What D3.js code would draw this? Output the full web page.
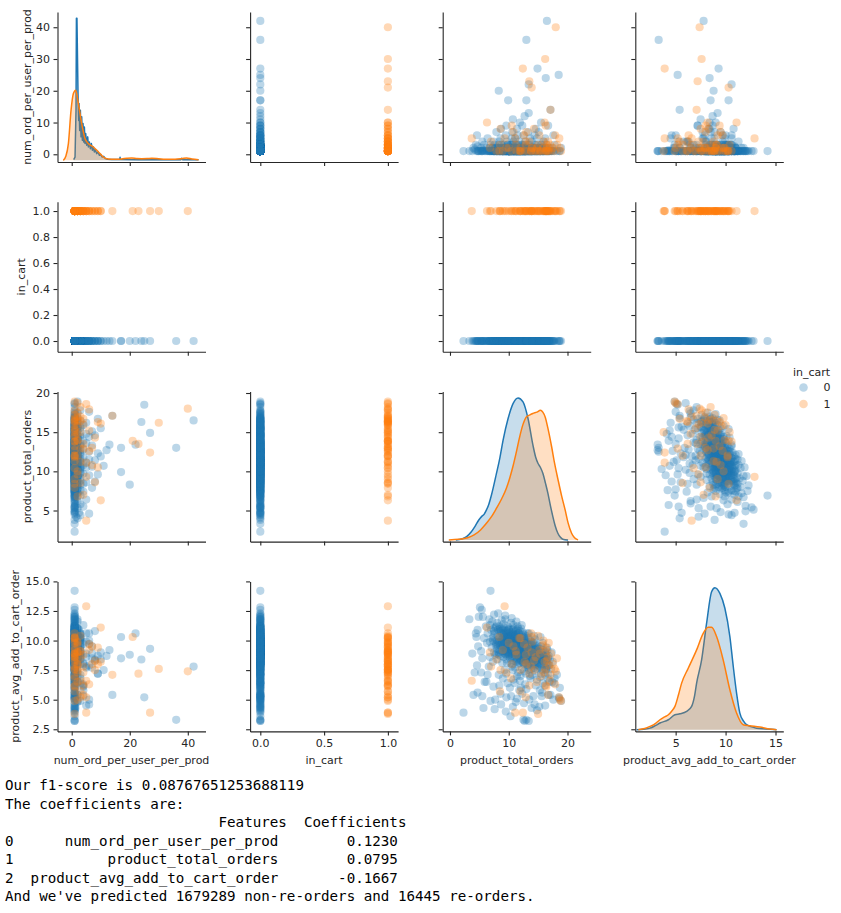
<!DOCTYPE html>
<html><head><meta charset="utf-8">
<script src="https://cdn.jsdelivr.net/npm/d3@7"></script>
<style>body{margin:0;background:#fff}svg{display:block}text{font-family:"DejaVu Sans",sans-serif}</style>
</head><body><svg id="c" width="841" height="913"></svg>
<script>
// ---------------- data ----------------
const varNames = ["num_ord_per_user_per_prod","in_cart","product_total_orders","product_avg_add_to_cart_order"];
const hueLevels = ["0","1"];
// rows: [num_ord_per_user_per_prod, product_total_orders, product_avg_add_to_cart_order]
const blueRows = [
[1,2.3,3.9],[1,3.3,11.8],[2,4.0,5.4],[1,3.8,8.9],[1.5,4.2,7.3],[3,4.4,10.6],[1,4.5,10.3],[1,4.7,5.6],[2.5,4.7,10.9],[1,4.8,9.5],[1,4.9,12.0],[6,4.6,7.9],
[1,5.1,12.8],[1,5.3,9.1],[2,5.3,7.3],[1,5.4,12.6],[4,5.5,5.3],[1,5.5,8.5],[1,5.6,12.0],[1.3,5.7,4.3],[3,5.8,10.2],[1,5.9,6.5],
[1,6.1,11.2],[2,6.2,6.5],[1,6.3,9.8],[1,6.4,7.1],[5,6.4,10.6],[1,6.6,7.8],[1,6.7,11.8],[2,6.8,8.6],[1,6.8,9.9],[1,6.9,14.2],[3,6.9,4.9],[1,6.8,11.3],
[1,7.0,10.9],[1,7.1,9.4],[2,7.2,11.6],[1,7.3,8.2],[1,7.4,10.3],[4,7.4,6.1],[1,7.5,12.2],[1,7.5,9.0],[3,7.6,10.6],[1,7.7,5.0],[2,7.7,8.8],[1,7.8,11.1],[1,7.9,9.7],[7,7.9,8.9],[1,7.6,4.2],[2,7.3,10.0],
[1,8.0,9.3],[1,8.0,11.5],[2,8.1,8.4],[1,8.1,10.4],[20,8.3,8.8],[1,8.2,12.3],[1,8.3,9.0],[3,8.3,7.1],[1,8.4,10.8],[1,8.5,9.6],[2,8.5,11.0],[1,8.6,8.7],[5,8.6,9.9],[1,8.7,4.6],[1,8.7,10.2],[2,8.8,9.4],[1,8.8,11.7],[1,8.9,8.1],[1,8.9,10.6],[4,8.4,6.2],[1,8.6,5.5],[2,8.2,9.8],[1,8.9,9.1],[8,8.7,10.8],
[1,9.0,9.5],[1,9.0,10.9],[2,9.1,8.6],[1,9.1,11.4],[1,9.2,9.8],[3,9.2,10.3],[1,9.3,8.9],[1,9.3,7.5],[1,9.4,10.1],[2,9.4,11.8],[1,9.5,9.2],[1,9.5,4.0],[6,9.5,10.6],[1,9.6,8.4],[1,9.6,9.9],[2,9.7,10.8],[1,9.7,9.0],[1,9.8,11.2],[17,9.9,10.3],[1,9.8,8.7],[3,9.8,6.4],[1,9.9,9.6],[1,9.9,10.4],[2,9.3,9.4],[1,9.4,12.1],[1,9.6,5.2],[4,9.7,8.1],[1,9.1,10.0],[1,9.2,9.1],[2,9.8,10.0],[1,9.5,8.8],[9,9.6,7.2],[1,9.0,6.8],
[1,10.0,9.3],[1,10.0,10.6],[2,10.1,9.0],[1,10.1,11.0],[1,10.2,8.5],[1,10.2,9.8],[3,10.3,10.2],[1,10.3,9.4],[1,10.4,11.5],[2,10.4,8.9],[1,10.5,10.0],[1,10.5,9.2],[5,10.5,7.8],[1,10.6,10.7],[1,10.6,8.7],[2,10.7,9.6],[1,10.7,4.4],[1,10.8,10.3],[1,10.8,9.0],[4,10.8,11.3],[1,10.9,9.7],[1,10.9,8.3],[2,10.9,10.5],[1,10.2,6.0],[1,10.4,5.3],[3,10.6,9.1],[1,10.7,10.9],[1,10.1,9.6],[2,10.3,8.1],[1,10.5,11.9],[1,10.8,6.7],[7,10.6,9.5],[1,10.0,8.8],[1,10.2,10.4],[2,10.4,9.9],[1,10.9,9.2],[11,10.7,7.5],[1,10.3,3.6],[1,10.6,8.0],[1,10.9,10.1],
[1,11.0,9.0],[1,11.0,10.4],[2,11.1,9.5],[1,11.1,8.6],[1,11.2,10.8],[3,11.2,9.2],[1,11.3,9.9],[1,11.3,8.2],[1,11.4,10.2],[2,11.4,9.4],[1,11.5,11.2],[1,11.5,8.8],[6,11.5,10.0],[1,11.6,9.6],[1,11.6,7.3],[2,11.7,10.6],[1,11.7,9.1],[1,11.8,8.5],[1,11.8,10.1],[4,11.8,5.8],[1,11.9,9.7],[1,11.9,8.9],[2,11.2,4.8],[1,11.3,11.6],[1,11.4,7.0],[3,11.6,8.0],[1,11.7,9.8],[1,11.1,10.0],[2,11.3,9.3],[1,11.5,9.5],[1,11.9,10.8],[8,11.4,8.4],[1,11.0,6.4],[1,11.6,11.0],[2,11.8,9.3],[1,11.2,8.9],[10,11.9,9.0],[1,11.4,5.1],[1,11.7,8.7],[1,11.3,10.5],[5,11.1,7.7],[1,11.5,9.2],[1,11.9,6.6],
[1,12.0,9.2],[1,12.0,10.3],[2,12.1,8.9],[1,12.1,9.8],[1,12.2,8.3],[3,12.2,10.0],[1,12.3,9.5],[1,12.3,7.6],[1,12.4,10.7],[2,12.4,9.0],[1,12.5,3.3],[1,12.5,8.6],[6,12.5,9.7],[1,12.6,10.2],[1,12.6,8.0],[2,12.7,9.3],[1,12.7,3.2],[1,12.8,10.0],[1,12.8,8.8],[4,12.8,6.3],[1,12.9,9.4],[1,12.9,7.2],[2,12.1,11.0],[1,12.3,5.5],[1,12.6,4.7],[3,12.7,8.4],[1,12.2,9.6],[1,12.4,8.1],[2,12.9,10.4],[1,12.0,7.0],[1,12.6,9.0],[9,12.3,8.7],[1,12.8,9.6],[1,12.1,6.0],[2,12.5,10.5],[1,12.2,11.3],[12,12.7,8.7],[1,12.4,9.9],[1,12.9,8.3],[1,12.6,7.4],
[36,13.0,3.3],[17,13.0,8.5],[22,13.4,10.6],[1,13.0,9.1],[1,13.1,8.4],[2,13.1,9.8],[1,13.2,7.9],[1,13.2,9.4],[3,13.3,8.9],[1,13.3,10.2],[1,13.4,8.1],[2,13.5,9.6],[1,13.5,7.5],[1,13.6,9.0],[5,13.6,8.6],[1,13.7,10.0],[1,13.7,6.8],[2,13.8,9.3],[1,13.8,8.2],[1,13.9,4.3],[4,13.9,9.7],[1,13.0,5.9],[1,13.4,3.2],[2,13.6,7.0],[1,13.2,10.6],[1,13.9,8.8],[7,13.3,7.7],[1,13.5,5.0],[1,13.8,9.9],[2,13.1,8.7],[1,13.6,9.4],[13,13.4,9.2],
[27,14.9,9.3],[1,14.0,8.7],[1,14.1,9.5],[2,14.2,8.1],[1,14.3,9.0],[1,14.4,7.4],[3,14.4,9.8],[1,14.5,8.5],[1,14.6,6.2],[2,14.7,9.2],[1,14.7,8.0],[1,14.8,4.1],[5,14.8,8.9],[1,14.9,7.6],[1,14.2,5.3],[2,14.5,10.1],[1,14.9,9.6],[1,14.0,7.1],[8,14.6,8.3],[1,14.3,10.4],[1,14.8,6.7],[2,14.1,8.8],[1,14.6,9.4],[6,14.4,4.6],
[1,15.0,8.6],[1,15.1,7.9],[2,15.2,9.1],[1,15.3,5.8],[1,15.4,8.3],[3,15.5,9.5],[1,15.5,7.2],[1,15.6,5.3],[2,15.7,8.8],[1,15.8,6.4],[1,15.8,9.8],[4,15.9,8.0],[1,15.2,4.4],[1,15.4,10.3],[2,15.6,7.6],[1,15.9,9.2],[7,15.1,8.5],[1,15.3,6.9],[1,15.7,5.6],[10,15.5,8.4],
[42,16.5,7.8],[24,16.3,8.4],[1,16.0,8.7],[1,16.1,6.2],[2,16.2,9.0],[1,16.3,7.5],[1,16.4,8.1],[3,16.5,9.4],[1,16.6,6.8],[1,16.7,8.5],[2,16.8,5.4],[1,16.9,7.9],[5,16.2,4.5],[1,16.6,9.2],[1,16.9,6.5],[2,16.4,8.8],[9,16.7,7.2],
[14,17.1,5.4],[1,17.0,8.4],[1,17.2,7.6],[2,17.4,6.5],[1,17.5,8.2],[1,17.7,6.4],[3,17.8,6.8],[1,17.3,9.0],[6,17.6,5.0],
[25,18.5,5.2],[1,18.2,7.1],[1,18.6,5.1],[2,18.9,4.9],[1,18.7,6.0]
];
// the dense core of in_cart = 0
const blueCoreRows = [
[1,7.2,10.2],[1,7.5,10.8],[2,7.8,9.6],[1,7.9,11.2],[1,7.6,9.9],[1,7.4,11.0],
[1,8.0,10.0],[1,8.1,9.6],[1,8.2,10.9],[2,8.3,9.9],[1,8.4,11.2],[1,8.5,10.3],[1,8.6,9.4],[1,8.7,10.6],[3,8.8,10.1],[1,8.9,9.8],[1,8.4,9.2],[2,8.8,11.0],
[1,9.0,10.2],[1,9.1,9.6],[1,9.2,10.6],[2,9.3,10.0],[1,9.4,9.3],[1,9.5,10.8],[1,9.6,10.3],[1,9.7,9.5],[3,9.8,10.5],[1,9.9,9.9],[1,9.0,9.0],[1,9.2,11.1],[2,9.4,10.4],[1,9.6,9.1],[1,9.8,9.7],[1,9.9,10.9],[1,9.3,9.7],[1.5,9.7,10.2],
[1,10.0,9.9],[1,10.0,9.5],[1,10.1,10.3],[2,10.2,9.3],[1,10.3,10.7],[1,10.3,9.7],[1,10.4,9.0],[1,10.5,10.4],[3,10.5,9.6],[1,10.6,10.1],[1,10.6,9.3],[1,10.7,10.6],[2,10.7,9.1],[1,10.8,9.8],[1,10.8,10.5],[1,10.9,9.4],[1,10.9,9.9],[1.5,10.1,8.8],[1,10.2,10.1],[1,10.4,9.6],[2,10.6,8.9],[1,10.8,11.0],[1,10.0,10.9],[1,10.5,8.6],
[1,11.0,9.7],[1,11.0,9.2],[1,11.1,10.2],[2,11.1,9.0],[1,11.2,9.6],[1,11.2,10.5],[1,11.3,9.1],[1,11.3,9.8],[3,11.4,10.0],[1,11.4,8.8],[1,11.5,9.4],[1,11.5,10.3],[2,11.6,9.2],[1,11.6,8.7],[1,11.7,9.9],[1,11.7,9.4],[1,11.8,8.9],[1.5,11.8,9.7],[1,11.9,10.2],[1,11.9,9.3],[2,11.0,8.5],[1,11.3,10.9],[1,11.5,8.3],[1,11.7,10.6],[1,11.2,8.9],[1,11.8,8.1],
[1,12.0,9.5],[1,12.0,8.8],[1,12.1,9.9],[2,12.1,9.2],[1,12.2,9.0],[1,12.3,10.1],[1,12.3,8.6],[1,12.4,9.4],[3,12.4,8.9],[1,12.5,9.8],[1,12.5,9.1],[1,12.6,8.5],[2,12.6,9.6],[1,12.7,9.0],[1,12.7,10.0],[1,12.8,8.7],[1,12.8,9.3],[1.5,12.9,8.9],[1,12.9,9.7],[1,12.2,10.4],[2,12.4,8.2],[1,12.6,10.3],[1,12.8,8.1],[1,12.0,8.3],
[1,13.0,9.4],[1,13.0,8.8],[1,13.1,9.1],[2,13.2,8.6],[1,13.3,9.6],[1,13.3,8.3],[1,13.4,9.0],[3,13.5,8.7],[1,13.5,9.3],[1,13.6,8.2],[1,13.7,9.1],[2,13.7,8.5],[1,13.8,8.9],[1,13.9,9.4],[1,13.9,8.0],[1.5,13.2,9.9],[1,13.4,7.9],[1,13.6,9.7],[1,13.8,7.6],[1,13.1,8.0],
[1,14.0,9.0],[1,14.1,8.4],[2,14.2,9.3],[1,14.3,8.6],[1,14.4,8.0],[1,14.5,9.1],[3,14.6,8.7],[1,14.7,8.3],[1,14.8,9.0],[1,14.9,8.1],[1,14.3,7.7],[2,14.5,7.9],[1,14.7,9.5],[1,14.1,9.8],
[1,15.0,8.9],[1,15.1,8.2],[2,15.2,8.6],[1,15.3,7.8],[1,15.4,8.8],[1,15.5,8.0],[3,15.6,8.5],[1,15.7,7.5],[1,15.8,8.3],[1,15.9,8.7],[1,15.3,9.3],[2,15.6,9.0],
[1,16.0,8.2],[1,16.1,7.8],[2,16.3,8.6],[1,16.4,7.6],[1,16.5,8.4],[1,16.7,7.9],[1,16.8,8.7],[1,16.2,7.1]
];
const orangeRows = [
[40,18.0,7.4],[30,16.2,7.6],[27,12.4,3.9],[23,13.5,7.2],[21,13.9,10.3],[14,17.1,7.1],[10,6.3,11.1],[5,9.3,12.9],
[5,3.7,6.6],[5,11.1,3.9],[1,15.0,3.8],[1,18.9,4.9],[2,18.7,5.0],[5,18.6,5.2],[10,16.1,8.2],[9,10.5,8.0],
[6,17.9,6.3],[1,16.4,6.1],[1,16.3,6.2],[2,16.5,8.3],[1,16.6,8.6],[3,16.4,9.1],[2,14.0,9.9],[1,12.0,10.2],
[4,12.9,8.8],[1,13.8,7.8],[2,12.0,7.5],[3,11.2,9.1],[1,11.8,10.2],[7,10.8,9.5],[2,9.6,7.3],[1,15.5,7.0],
[3,12.9,5.2],[1,12.0,5.7],[4,13.5,6.2],[8,8.6,7.5],[1,7.9,8.4],[3,8.5,5.7],[4,7.0,7.8],[1,17.2,8.9],
[2,15.8,9.6],[1,14.6,8.6],[6,15.2,9.2],[1,13.2,9.4],[2,17.5,8.0],[3,15.0,10.4],[1,16.8,9.8],[8,14.3,8.3],
[1,11.3,8.8],[2,13.9,9.0],[1,17.8,7.6],[4,16.0,7.3],[1,10.4,6.8],[2,14.8,6.5],[6,12.6,9.7],[1,15.9,10.0],
[3,17.0,6.6],[1,9.0,9.2],[2,16.9,7.9],[1,14.4,7.5],[7,13.0,8.0],[1,13.8,10.6],[3,18.2,8.5],[1,8.4,10.3],
[2,6.8,9.0],[4,16.7,5.4],[2,10.0,9.8],[1,15.3,8.9],[9,16.3,9.4],[1,12.7,8.2]
];
// diagonal density curves [value, relative density]
const numKde0 = [[0.68,0.005],[1.14,0.023],[1.48,0.353],[1.62,1.0],[1.80,1.0],[2.17,0.47],[2.40,0.28],[2.52,0.4],[2.75,0.21],[2.98,0.353],[3.21,0.165],[3.44,0.306],[3.67,0.141],[3.90,0.259],[4.13,0.129],[4.36,0.235],[4.59,0.118],[4.82,0.188],[5.16,0.106],[5.51,0.165],[5.74,0.094],[6.08,0.129],[6.43,0.082],[6.77,0.118],[7.12,0.071],[7.46,0.094],[7.80,0.059],[8.15,0.075],[8.61,0.047],[9.07,0.059],[9.53,0.035],[9.99,0.042],[10.45,0.023],[11.03,0.028],[11.60,0.012],[12.4,0.007],[13.8,0.005],[16.1,0.005],[16.5,0.005],[16.66,0.021],[16.85,0.005],[23,0.004],[28.7,0.004],[37.6,0.004],[37.9,0.014],[38.2,0.004],[43.7,0.004]];
const numKde1 = [[-2.9,0.0],[-2.0,0.03],[-1.15,0.118],[-0.23,0.353],[0.57,0.47],[1.37,0.494],[2.29,0.4],[3.44,0.259],[4.59,0.153],[5.74,0.118],[7.46,0.094],[9.2,0.059],[10.9,0.023],[12.6,0.01],[15,0.008],[17.2,0.01],[19,0.014],[20.7,0.016],[22.5,0.012],[24.1,0.011],[26,0.012],[27.6,0.014],[30,0.011],[32.2,0.008],[35.6,0.008],[38,0.012],[39.6,0.016],[41.4,0.009],[43.7,0.004]];
const totalKde0 = [[1.0,0],[2.0,0.006],[2.83,0.023],[3.6,0.055],[4.24,0.094],[4.9,0.14],[5.37,0.164],[5.8,0.18],[6.21,0.211],[6.6,0.25],[7.06,0.316],[7.91,0.468],[8.5,0.58],[9.04,0.703],[9.89,0.855],[10.73,0.96],[11.58,1.0],[12.43,0.972],[13.28,0.855],[14.12,0.667],[14.6,0.58],[14.97,0.54],[15.4,0.51],[15.82,0.468],[16.25,0.4],[16.67,0.328],[17.1,0.24],[17.51,0.164],[17.9,0.1],[18.36,0.047],[18.8,0.018],[19.2,0.005],[20.1,0]];
const totalKde1 = [[-0.2,0],[1.5,0.004],[3.0,0.015],[4.1,0.035],[5.2,0.07],[6.2,0.117],[7.0,0.16],[7.9,0.222],[8.8,0.29],[9.6,0.363],[10.2,0.44],[10.7,0.515],[11.3,0.62],[11.86,0.726],[12.4,0.81],[13.0,0.866],[13.6,0.88],[14.1,0.89],[14.8,0.9],[15.4,0.913],[15.8,0.9],[16.2,0.866],[16.7,0.78],[17.3,0.656],[17.8,0.54],[18.4,0.422],[19.0,0.31],[19.6,0.211],[20.1,0.12],[20.7,0.047],[21.2,0.015],[21.8,0]];
const avgKde0 = [[1.1,0],[1.8,0.004],[2.43,0.011],[3.0,0.03],[3.43,0.047],[4.27,0.07],[4.93,0.105],[5.43,0.112],[6.1,0.129],[6.6,0.164],[6.9,0.24],[7.1,0.328],[7.6,0.492],[8.1,0.75],[8.6,0.972],[8.93,1.0],[9.43,0.96],[9.93,0.855],[10.43,0.656],[10.77,0.445],[11.1,0.258],[11.43,0.117],[11.8,0.06],[12.1,0.035],[13.1,0.011],[14.1,0.005],[15.1,0]];
const avgKde1 = [[1.26,0],[1.9,0.008],[2.43,0.023],[3.0,0.045],[3.43,0.07],[3.9,0.09],[4.27,0.105],[4.6,0.13],[4.93,0.164],[5.3,0.25],[5.6,0.328],[6.26,0.433],[7.1,0.562],[7.76,0.679],[8.26,0.721],[8.6,0.721],[9.1,0.656],[9.76,0.492],[10.43,0.281],[11.1,0.117],[11.76,0.035],[12.43,0.028],[13.43,0.019],[14.43,0.005],[15.1,0]];
const diagCurves = {0:[numKde0,numKde1], 2:[totalKde0,totalKde1], 3:[avgKde0,avgKde1]};
const xTicks = [[0,20,40],[0,0.5,1.0],[0,10,20],[5,10,15]];
const yTicks = [[0,10,20,30,40],[0,0.2,0.4,0.6,0.8,1.0],[5,10,15,20],[2.5,5,7.5,10,12.5,15]];
const reportLines = [
"Our f1-score is 0.08767651253688119",
"The coefficients are:",
"                         Features  Coefficients",
"0      num_ord_per_user_per_prod        0.1230",
"1           product_total_orders        0.0795",
"2  product_avg_add_to_cart_order       -0.1667",
"And we've predicted 1679289 non-re-orders and 16445 re-orders."
];

// ---------------- layout / style ----------------
const colors = ["#1f77b4","#ff7f0e"];
const ink = "#262626";
const xDomains = [[-4.9,46.1],[-0.08,1.08],[-1.24,23.95],[0.96,15.78]];
const yDomains = [[-2.43,44.8],[-0.083,1.071],[1.03,20.18],[2.32,15.0]];
const fmtX = [d3.format("d"),d3.format(".1f"),d3.format("d"),d3.format("d")];
const fmtY = [d3.format("d"),d3.format(".1f"),d3.format("d"),d3.format(".1f")];
const W=148, H=150, X0=57.5, DX=192.6, Y0=12, DY=189.8;
const ylabX = [27.5,21.5,27,15];
const FS = "11px";

const svg = d3.select("#c");
const xs = xDomains.map((d,j)=>d3.scaleLinear().domain(d).range([X0+j*DX, X0+j*DX+W]));
const ys = yDomains.map((d,i)=>d3.scaleLinear().domain(d).range([Y0+i*DY+H, Y0+i*DY]));

const records = [
  ...blueRows.map(r=>({v:[r[0],0,r[1],r[2]],h:0})),
  ...blueCoreRows.map(r=>({v:[r[0],0,r[1],r[2]],h:0})),
  ...orangeRows.map(r=>({v:[r[0],1,r[1],r[2]],h:1}))
];

const defs = svg.append("defs");
for(let i=0;i<4;i++){
  for(let j=0;j<4;j++){
    if(i===1 && j===1) continue;
    const left=X0+j*DX, top=Y0+i*DY, bottom=top+H;
    const id=`clip${i}${j}`;
    defs.append("clipPath").attr("id",id).append("rect").attr("x",left).attr("y",top).attr("width",W).attr("height",H);
    const g = svg.append("g").attr("clip-path",`url(#${id})`);
    if(i===j){
      const ky = d3.scaleLinear().domain([0,1]).range([bottom-1.7, top+6.3]);
      const curves = diagCurves[i];
      curves.forEach((c,h)=>{
        const curve = (i===0 && h===0) ? d3.curveLinear : d3.curveMonotoneX;
        const area = d3.area().x(d=>xs[j](d[0])).y0(ky(0)).y1(d=>ky(d[1])).curve(curve);
        const line = d3.line().x(d=>xs[j](d[0])).y(d=>ky(d[1])).curve(curve);
        g.append("path").attr("d",area(c)).attr("fill",colors[h]).attr("fill-opacity",0.25);
        g.append("path").attr("d",line(c)).attr("fill","none").attr("stroke",colors[h]).attr("stroke-width",1.5).attr("stroke-linejoin","round");
      });
    } else {
      g.selectAll("circle").data(records).join("circle")
        .attr("cx",d=>xs[j](d.v[j])).attr("cy",d=>ys[i](d.v[i])).attr("r",4.1)
        .attr("fill",d=>colors[d.h]).attr("fill-opacity",0.3);
    }
    const ax = d3.axisLeft(ys[i]).tickValues(yTicks[i]).tickSize(4).tickSizeOuter(0).tickPadding(3.5)
      .tickFormat(j===0 ? fmtY[i] : ()=>"");
    const ga = svg.append("g").attr("transform",`translate(${left},0)`).call(ax);
    const bx = d3.axisBottom(xs[j]).tickValues(xTicks[j]).tickSize(4).tickSizeOuter(0).tickPadding(3.5)
      .tickFormat(i===3 ? fmtX[j] : ()=>"");
    const gb = svg.append("g").attr("transform",`translate(0,${bottom})`).call(bx);
    [ga,gb].forEach(a=>{
      a.selectAll("path,line").attr("stroke",ink).attr("stroke-width",1.1);
      a.selectAll("text").attr("fill",ink).style("font-size",FS).style("font-family","DejaVu Sans");
    });
  }
}
varNames.forEach((n,i)=>{
  svg.append("text").attr("transform",`translate(${ylabX[i]},${Y0+i*DY+H/2}) rotate(-90)`)
    .attr("text-anchor","middle").attr("dominant-baseline","central")
    .attr("fill",ink).style("font-size",FS).text(n);
  svg.append("text").attr("x",X0+i*DX+W/2).attr("y",760.7)
    .attr("text-anchor","middle").attr("dominant-baseline","central")
    .attr("fill",ink).style("font-size",FS).text(n);
});
const lg = svg.append("g");
lg.append("text").attr("x",793).attr("y",372).attr("dominant-baseline","central").attr("fill",ink).style("font-size",FS).text(varNames[1]);
hueLevels.forEach((h,k)=>{
  const yy = 387.5 + k*16.5;
  lg.append("circle").attr("cx",803.5).attr("cy",yy).attr("r",4.3).attr("fill",colors[k]).attr("fill-opacity",0.3);
  lg.append("text").attr("x",823.5).attr("y",yy).attr("dominant-baseline","central").attr("fill",ink).style("font-size",FS).text(h);
});
const rt = svg.append("g");
reportLines.forEach((s,k)=>{
  rt.append("text").attr("x",5).attr("y",790+k*18.5).attr("xml:space","preserve")
    .style("white-space","pre").style("font-family","'DejaVu Sans Mono',monospace").style("font-size","14.2px")
    .attr("fill","#000").text(s);
});
</script></body></html>
